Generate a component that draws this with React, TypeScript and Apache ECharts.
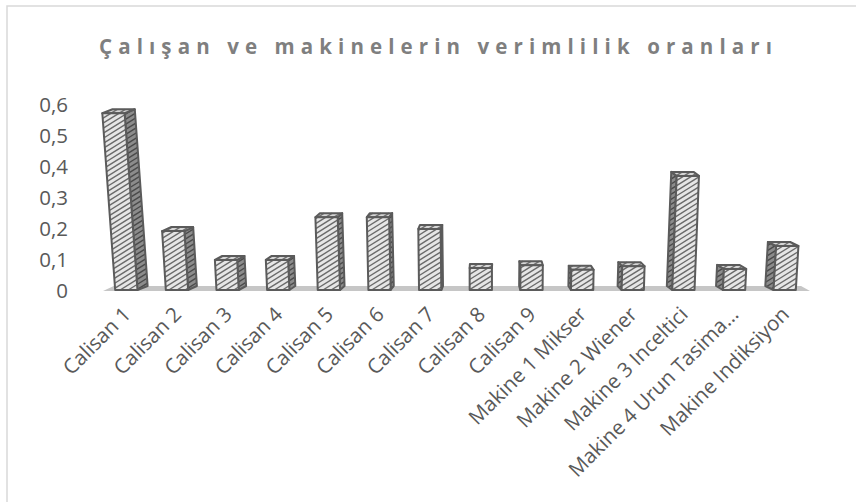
import React, { useEffect, useRef } from 'react';
import * as echarts from 'echarts';

const titleText = 'Çalışan ve makinelerin verimlilik oranları';

const categories = [
  'Calisan 1',
  'Calisan 2',
  'Calisan 3',
  'Calisan 4',
  'Calisan 5',
  'Calisan 6',
  'Calisan 7',
  'Calisan 8',
  'Calisan 9',
  'Makine 1 Mikser',
  'Makine 2 Wiener',
  'Makine 3 Inceltici',
  'Makine 4 Urun Tasima…',
  'Makine Indiksiyon',
];

const values = [0.57, 0.19, 0.097, 0.097, 0.235, 0.235, 0.197, 0.071, 0.08, 0.065, 0.077, 0.368, 0.068, 0.142];

const yMin = 0;
const yMax = 0.6;
const yStep = 0.1;

const CX = 490;
const LEAN = 2e-4;
const DEPTH_X = 0.028;
const DEPTH_Y = -4;
const HATCH_ANGLE = 32;
const HATCH_SPACING = 4.3;
const EDGE = '#5b5b5b';

type P = number[];

function hatch(poly: P[]): number[][] {
  const a = (HATCH_ANGLE * Math.PI) / 180;
  const d = [Math.cos(a), -Math.sin(a)];
  const n = [Math.sin(a), Math.cos(a)];
  let mn = Infinity;
  let mx = -Infinity;
  poly.forEach((p) => {
    const t = p[0] * n[0] + p[1] * n[1];
    mn = Math.min(mn, t);
    mx = Math.max(mx, t);
  });
  const segs: number[][] = [];
  const start = Math.ceil(mn / HATCH_SPACING) * HATCH_SPACING;
  for (let c = start; c <= mx; c += HATCH_SPACING) {
    const pts: P[] = [];
    for (let k = 0; k < poly.length; k++) {
      const A = poly[k];
      const B = poly[(k + 1) % poly.length];
      const fa = A[0] * n[0] + A[1] * n[1] - c;
      const fb = B[0] * n[0] + B[1] * n[1] - c;
      if (fa * fb <= 0 && fa !== fb) {
        const t = fa / (fa - fb);
        pts.push([A[0] + (B[0] - A[0]) * t, A[1] + (B[1] - A[1]) * t]);
      }
    }
    if (pts.length >= 2) {
      pts.sort((p, q) => p[0] * d[0] + p[1] * d[1] - (q[0] * d[0] + q[1] * d[1]));
      const p1 = pts[0];
      const p2 = pts[pts.length - 1];
      segs.push([p1[0], p1[1], p2[0], p2[1]]);
    }
  }
  return segs;
}

function face(children: any[], pts: P[], fill: string, stripe: string) {
  children.push({ type: 'polygon', shape: { points: pts }, style: { fill, stroke: null } });
  hatch(pts).forEach((s) => {
    children.push({
      type: 'line',
      shape: { x1: s[0], y1: s[1], x2: s[2], y2: s[3] },
      style: { stroke: stripe, lineWidth: 1.4 },
    });
  });
  children.push({
    type: 'polygon',
    shape: { points: pts },
    style: { fill: null, stroke: EDGE, lineWidth: 2, lineJoin: 'round' },
  });
}

const renderBar = (params: any, api: any) => {
  const i = api.value(0);
  const v = api.value(1);
  const b = api.coord([i, 0]);
  const t = api.coord([i, v]);
  const band = api.size([1, 0])[0];
  const w = band * 0.44;
  const xc = b[0];
  const yb = b[1];
  const yt = t[1];
  const h = yb - yt;
  const s = LEAN * (xc - CX) * h;
  const FLb = [xc - w / 2, yb];
  const FRb = [xc + w / 2, yb];
  const FRt = [xc + w / 2 + s, yt];
  const FLt = [xc - w / 2 + s, yt];
  const dx = (CX - xc) * DEPTH_X;
  const dy = DEPTH_Y;
  const off = (p: P) => [p[0] + dx, p[1] + dy];
  const children: any[] = [];
  if (dx > 0.5) face(children, [FRb, FRt, off(FRt), off(FRb)], '#8c8c8c', '#4a4a4a');
  else if (dx < -0.5) face(children, [FLb, FLt, off(FLt), off(FLb)], '#8c8c8c', '#4a4a4a');
  face(children, [FLt, FRt, off(FRt), off(FLt)], '#d6d6d6', '#707070');
  face(children, [FLb, FRb, FRt, FLt], '#e6e6e6', '#6a6a6a');
  return { type: 'group', children };
};

const renderFloor = (params: any, api: any) => {
  const band = api.size([1, 0])[0];
  const a = api.coord([0, 0]);
  const z = api.coord([categories.length - 1, 0]);
  const y = a[1];
  const xl = a[0] - band / 2 + 2;
  const xr = z[0] + band / 2;
  const dl = (CX - xl) * DEPTH_X;
  const dr = (CX - xr) * DEPTH_X;
  return {
    type: 'polygon',
    shape: {
      points: [
        [xl, y + 1],
        [xr, y + 1],
        [xr + dr, y - 4],
        [xl + dl, y - 4],
      ],
    },
    style: { fill: '#c6c6c6', stroke: null },
  };
};

export default function App() {
  const ref = useRef<HTMLDivElement>(null);
  useEffect(() => {
    if (!ref.current) return;
    const chart = echarts.init(ref.current, undefined, { renderer: 'svg' });
    const font = "'Open Sans', sans-serif";
    chart.setOption({
      animation: false,
      backgroundColor: '#ffffff',
      title: {
        text: titleText,
        left: 99,
        top: 35,
        padding: 0,
        textStyle: {
          fontSize: 20.5,
          fontWeight: 'bold',
          color: '#7f7f7f',
          fontFamily: "'Open Sans', tspace",
        },
      },
      graphic: [
        {
          type: 'rect',
          shape: { x: 7, y: 6, width: 900, height: 600 },
          style: { fill: null, stroke: '#d9d9d9', lineWidth: 1.5 },
          silent: true,
          z: -10,
        },
      ],
      grid: { left: 101, right: 46, top: 104, bottom: 212, containLabel: false, outerBoundsMode: 'none' },
      xAxis: {
        type: 'category',
        data: categories,
        axisLine: { show: false },
        axisTick: { show: false },
        splitLine: { show: false },
        axisLabel: {
          interval: 0,
          rotate: 45,
          margin: 20,
          color: '#595959',
          fontSize: 20.5,
          fontFamily: font,
        },
      },
      yAxis: {
        type: 'value',
        min: yMin,
        max: yMax,
        interval: yStep,
        axisLine: { show: false },
        axisTick: { show: false },
        splitLine: { show: false },
        axisLabel: {
          margin: 33,
          color: '#595959',
          fontSize: 20.5,
          fontFamily: font,
          formatter: (val: number) => String(Math.round(val * 10) / 10).replace('.', ','),
        },
      },
      series: [
        {
          type: 'custom',
          name: 'floor',
          silent: true,
          z: 1,
          renderItem: renderFloor,
          data: [[0, 0]],
          encode: { x: 0, y: 1 },
        },
        {
          type: 'custom',
          name: 'verimlilik',
          silent: true,
          z: 2,
          renderItem: renderBar,
          data: values.map((v, i) => [i, v]),
          encode: { x: 0, y: 1 },
        },
      ],
    });
    return () => chart.dispose();
  }, []);
  return (
    <>
      <style>{`text[style*="tspace"]{letter-spacing:6.1px;}`}</style>
      <div
        ref={ref}
        style={{ position: 'fixed', left: 0, top: 0, width: 856, height: 502, background: '#fff' }}
      />
    </>
  );
}
